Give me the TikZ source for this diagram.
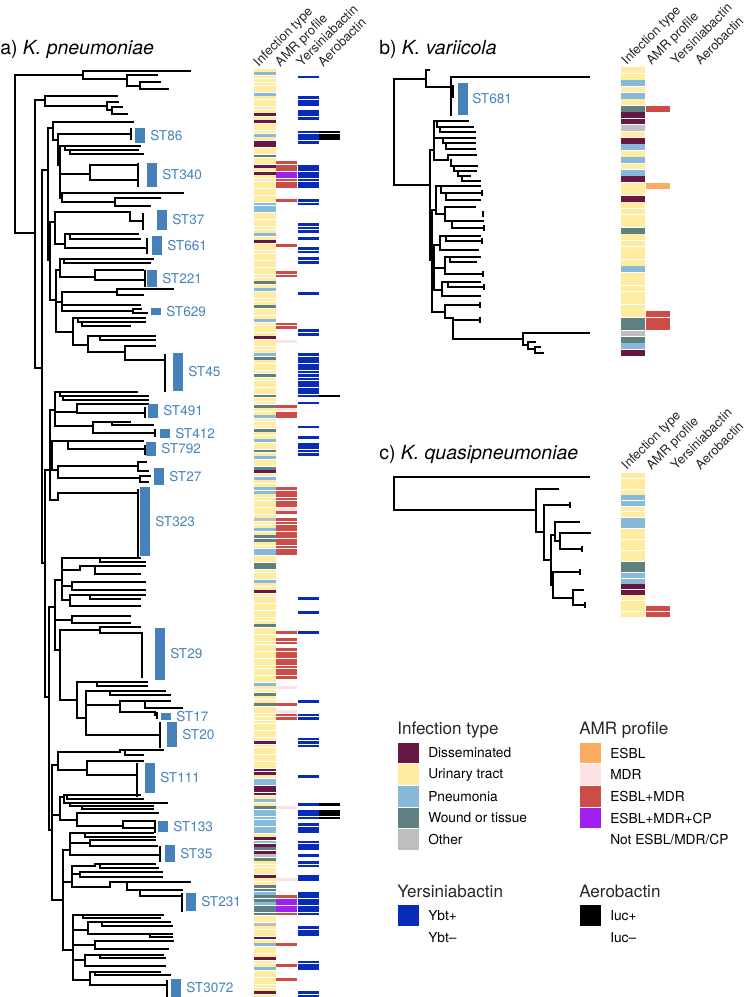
\documentclass[tikz,border=0pt]{standalone}
\usepackage{fontspec}
\usepackage{graphicx}
\setmainfont{TeX Gyre Heros}
\usetikzlibrary{positioning}

\definecolor{dis}{RGB}{104,22,68}
\definecolor{uri}{RGB}{255,236,160}
\definecolor{pne}{RGB}{135,185,218}
\definecolor{wou}{RGB}{95,128,128}
\definecolor{oth}{RGB}{190,190,190}
\definecolor{esbl}{RGB}{252,172,96}
\definecolor{mdr}{RGB}{252,226,228}
\definecolor{esmd}{RGB}{204,76,72}
\definecolor{escp}{RGB}{160,32,240}
\definecolor{ybt}{RGB}{8,44,184}
\definecolor{stblue}{RGB}{70,130,185}

\tikzset{
  branch/.style={line width=1.1pt, line cap=rect},
  clps/.style={line width=1.8pt},
  tipmark/.style={line width=1.1pt},
  stlab/.style={font=\fontsize{10.2}{12}\selectfont, text=stblue, anchor=west, inner sep=0pt},
  head/.style={font=\fontsize{9.7}{12}\selectfont, text=black!85, anchor=base west, inner sep=0pt},
  ptitle/.style={font=\fontsize{14.6}{17}\selectfont, anchor=base west, inner sep=0pt},
  legtitle/.style={font=\fontsize{12.8}{15}\selectfont, text=black!85, anchor=base west, inner sep=0pt},
  legitem/.style={font=\fontsize{10.3}{12}\selectfont, anchor=west, inner sep=0pt},
}

\newcommand{\branches}[1]{\foreach \xs/\ya/\yy/\xe in {#1}{\draw[branch] (\xs,\ya) |- (\xe,\yy);}}
\newcommand{\collapsed}[2]{\foreach \tx/\ta/\tb in {#2}{\draw[#1] (\tx,\ta) -- (\tx,\tb);}}
\newcommand{\heat}[5]{\foreach \ka/\kb/\hc in {#5}{\foreach \k in {\ka,...,\kb}{\fill[\hc] (#1,{#3+\k*#4+0.3}) rectangle (#2,{#3+(\k+1)*#4-0.3});}}}

\begin{document}
\begin{tikzpicture}[x=0.75pt,y=-0.75pt]
\useasboundingbox (0,0) rectangle (747,997);

% titles
\node[ptitle] (ta) at (0,54) {a) \textit{K. pneumoniae}};
\node[ptitle] (tb) at (379,54) {b) \textit{K. variicola}};
\node[ptitle] (tc) at (379,459) {c) \textit{K. quasipneumoniae}};

\foreach \h [count=\i from 0] in {Infection type, AMR profile, Yersiniabactin, Aerobactin}{
  \node[head] (ha\i) at ({252+\i*21.5},67) {\rotatebox{45}{\h}};
  \node[head] (hb\i) at ({620+\i*24.6},65.5) {\rotatebox{45}{\h}};
  \node[head] (hc\i) at ({620+\i*24.6},470.5) {\rotatebox{45}{\h}};
}

% tree a
\branches{15/233/75/83, 83/75/71/190, 83/75/79/127, 127/79/75/157, 127/79/86/140, 140/86/82/160, 140/86/89/168,
15/233/233/35, 35/233/100/45, 35/233/368/42,
45/100/96/117, 45/100/106/107, 107/106/102/118, 107/106/110/112, 112/110/107/122, 112/110/114/127,
42/368/170/48, 42/368/563/45}
\branches{48/170/128/53, 48/170/260/50, 53/128/122/133, 53/128/140/58, 58/140/134/131, 58/140/165/60,
60/165/146/140, 65/146/150/138, 70/150/154/143, 60/165/174/90, 90/174/165/138, 90/174/180/136,
60/165/198/62, 62/198/193/183, 62/198/202/115, 115/202/198/160, 115/202/206/150,
50/260/222/55, 55/222/212/130, 130/212/221/143, 55/222/244/65, 65/244/234/138, 70/234/239/140, 65/244/248/147,
50/260/300/56, 56/300/270/60, 60/270/259/153, 64/259/263/150, 60/270/277/95, 95/277/270/143, 95/277/280/145,
56/300/302/62, 62/302/292/117, 117/292/289/173, 117/292/295/143, 62/302/305/140, 62/302/311/133, 133/311/309/141, 133/311/313/147,
56/300/332/73, 73/332/318/145, 78/318/322/145, 82/322/326/130, 73/332/345/88, 88/345/336/155, 100/336/340/155,
88/345/352/125, 125/352/346/155, 125/352/360/165}
\branches{45/563/470/50, 45/563/697/49,
50/470/410/55, 55/410/392/137, 60/392/396/148, 63/396/400/148, 55/410/412/77, 77/412/404/148, 77/412/413/145,
55/410/426/93, 93/426/422/130, 112/422/425/153, 93/426/433/155,
50/470/448/52, 52/448/441/143, 68/441/449/145, 52/448/470/58, 58/470/466/138, 138/466/462/146, 138/466/471/148,
58/470/478/140, 140/478/476/150, 140/478/482/148, 50/470/500/58, 58/500/493/138}
\branches{49/697/607/55, 49/697/830/52,
55/607/580/62, 62/580/558/140, 100/558/562/145, 62/580/570/80, 80/570/566/145, 95/566/574/140,
62/580/586/72, 72/586/582/145, 72/586/590/145, 62/580/600/70, 70/600/595/145, 90/595/599/140, 70/600/606/140,
55/607/620/72, 72/620/616/130, 72/620/623/130,
55/607/650/60, 60/650/630/100, 100/630/627/140, 100/630/633/142,
60/650/700/77, 77/700/682/147, 97/682/686/147, 77/700/718/86, 86/718/691/165, 110/691/695/170,
86/718/705/120, 120/705/701/170, 145/701/708/182, 120/705/712/155, 155/712/715/157, 86/718/735/160}
\branches{52/830/765/58, 58/765/752/120, 120/752/750/163, 125/752/755/143, 58/765/770/87, 87/770/761/143, 87/770/775/137,
52/830/815/60, 60/815/797/64, 64/797/795/140, 67/795/799/143, 64/797/803/167, 70/803/806/153, 82/806/809/153,
60/815/820/77, 77/820/813/158, 77/820/826/123, 123/826/821/155, 123/826/828/155,
52/830/900/63, 63/900/850/70, 70/850/833/153, 85/833/837/155, 70/850/843/90, 90/843/840/155, 90/843/846/157, 70/850/855/160,
63/900/882/72, 72/882/866/95, 95/866/864/155, 100/864/868/158, 72/882/874/80, 80/874/872/162, 80/874/877/162,
72/882/887/110, 110/887/882/190, 127/882/890/182, 140/890/896/182,
63/900/950/73, 73/950/915/163, 83/915/918/160, 73/950/930/88, 88/930/922/170, 102/922/926/172, 88/930/934/172, 150/934/937/172,
73/950/945/95, 95/945/941/173, 95/945/949/168, 73/950/960/85, 85/960/955/163, 100/955/958/165, 85/960/966/165,
73/950/980/90, 90/980/972/160, 95/972/975/170, 90/980/985/167}
\collapsed{clps}{131/128/140, 138/163/187, 143/213/230, 147/238/254, 145/270/287, 165/354/392, 145/407/418, 155/429/437,
145/445/455, 142/632/678, 157/712/719, 160/722/748, 137/763/797, 155/822/833, 160/846/862, 182/893/912, 167/980/997}
\collapsed{branch}{138/490/556}

\foreach \n/\bx/\ya/\yb in {86/135/128/143, 340/147/163/187, 37/157/210/230, 661/152/236/255, 221/147/270/287,
  629/151/308/315, 45/173/353/391, 491/148/404/418, 412/160/429/438, 792/146/442/456, 27/154/468/485,
  323/140/487/556, 29/155/628/680, 17/161/713/720, 20/167/722/747, 111/145/763/793, 133/158/821/832,
  35/165/845/862, 231/186/893/911, 3072/171/979/997}{
  \fill[stblue] (\bx,\ya) rectangle (\bx+9.5,\yb);
  \node[stlab] (st\n) at (\bx+15,{(\ya+\yb)/2}) {ST\n};
}

% heatmap a
\heat{254}{275.5}{68.5}{3.43}{0/270/uri}
\heat{254}{275.5}{68.5}{3.43}{1/1/pne,7/7/pne,13/13/dis,15/15/dis,19/19/pne,21/22/dis,25/25/wou,28/28/dis,30/30/dis,39/41/pne,
48/48/pne,50/50/dis,62/62/wou,64/64/pne,69/69/wou,73/73/pne,78/78/dis,83/83/pne,84/84/wou,89/89/wou,95/95/wou,98/98/wou,
101/101/pne,105/105/wou,108/108/pne,111/111/wou,113/113/pne,116/116/wou,117/117/dis,119/119/pne,122/123/pne,131/131/oth,
134/134/pne,136/137/wou,140/141/pne,144/145/wou,149/149/pne,152/152/dis,162/162/wou,179/179/pne,182/182/wou,185/185/wou,
196/196/dis,204/205/dis,207/208/pne,209/211/dis,213/213/pne,215/215/wou,216/222/pne,224/224/dis,225/225/pne,226/226/dis,
227/227/wou,228/228/dis,229/229/oth,230/230/wou,235/235/dis,238/239/wou,240/240/pne,241/242/wou,243/243/pne,244/246/wou,
249/249/oth,253/253/dis,255/255/pne,259/259/dis,262/262/pne,269/269/dis}
\heat{276.2}{297.2}{68.5}{3.43}{27/34/esmd,30/31/escp,38/38/esmd,51/51/esmd,59/60/esmd,74/75/esmd,79/79/mdr,98/98/esmd,
99/99/mdr,100/101/esmd,122/127/esmd,128/128/mdr,129/129/esmd,131/141/esmd,164/164/esmd,166/167/esmd,169/177/esmd,
180/180/mdr,185/185/esmd,187/187/mdr,188/189/esmd,215/215/mdr,236/236/mdr,241/246/esmd,242/245/escp,255/255/esmd,
261/261/esmd,265/265/esmd}
\heat{297.8}{318.8}{68.5}{3.43}{2/2/ybt,8/10/ybt,12/14/ybt,18/21/ybt,28/34/ybt,38/39/ybt,45/47/ybt,49/49/ybt,52/53/ybt,
55/56/ybt,65/65/ybt,76/77/ybt,83/95/ybt,97/97/ybt,104/104/ybt,107/107/ybt,109/112/ybt,154/154/ybt,158/158/ybt,164/164/ybt,
184/184/ybt,188/189/ybt,195/197/ybt,206/206/ybt,214/214/ybt,216/218/ybt,220/222/ybt,225/227/ybt,229/229/ybt,231/232/ybt,
235/236/ybt,240/246/ybt,250/250/ybt,251/252/ybt,260/262/ybt,269/270/ybt}
\heat{319.3}{340.3}{68.5}{3.43}{18/20/black,95/95/black,214/214/black,216/218/black}

% tree b
\branches{394/185/79/426, 426/79/70/429, 426/79/87/451, 451/87/77/589, 451/87/115/451, 394/185/185/430,
430/185/150/434, 430/185/260/432,
434/150/121/468, 437/121/127/473, 440/127/132/475, 434/150/138/475, 443/138/143/475, 446/143/149/475,
434/150/160/448, 448/160/155/476, 451/160/166/477, 454/166/171/476, 458/171/176/470, 462/176/181/480,
432/260/210/436, 436/210/186/480, 441/186/193/482, 446/193/200/480, 436/210/214/445, 445/214/207/475,
445/214/221/483, 452/221/228/484,
432/260/275/434, 434/275/245/440, 440/245/236/480, 446/236/241/482, 440/245/250/478, 434/275/268/445,
445/268/257/480, 450/257/262/476, 445/268/274/483, 434/275/290/442, 442/290/282/480, 448/282/287/484, 442/290/296/480,
432/260/312/445, 445/312/305/480, 445/312/318/453, 453/318/320/480, 453/318/339/523, 523/339/333/589,
523/339/345/528, 528/345/342/535, 528/345/349/535, 535/349/347/540, 535/349/353/543}
\collapsed{tipmark}{482/190/196, 483/211/217, 484/225/231, 482/238/244, 483/271/277, 484/284/290, 480/302/308, 480/317/323}
\draw[line width=2.4pt] (452,85) -- (452,98);
\fill[stblue] (458,83) rectangle (468,115);
\node[stlab] (st681) at (472,99) {ST681};

\heat{621}{645}{67}{6.42}{0/44/uri}
\heat{621}{645}{67}{6.42}{2/2/pne,4/4/pne,6/6/wou,7/8/dis,9/9/oth,11/11/dis,12/12/pne,14/14/pne,16/16/pne,17/17/dis,
20/20/dis,25/25/wou,31/31/pne,39/40/wou,41/41/oth,42/42/wou,43/43/pne,44/44/dis}
\heat{645.5}{670}{67}{6.42}{6/6/esmd,18/18/esbl,38/40/esmd}

% tree c
\branches{394/510/477/589, 394/510/510/536, 536/510/489/558, 536/510/532/544, 544/532/505/570, 544/532/560/551,
551/560/535/555, 555/535/522/579, 555/535/541/560, 560/541/533/590, 560/541/549/582, 551/560/585/553,
553/585/572/580, 553/585/598/573, 573/598/590/583, 573/598/605/585}
\collapsed{tipmark}{570/502/508, 582/546/552, 580/569/575, 585/602/608}

\heat{621}{645}{473}{5.54}{0/25/uri}
\heat{621}{645}{473}{5.54}{4/5/pne,8/9/pne,16/17/wou,18/19/pne,20/21/dis}
\heat{645.5}{670}{473}{5.54}{24/25/esmd}

% legends
\node[legtitle] (lgi) at (397,734) {Infection type};
\foreach \c/\t [count=\i from 0] in {dis/Disseminated, uri/Urinary tract, pne/Pneumonia, wou/Wound or tissue, oth/Other}{
  \fill[\c] (398,{742.7+\i*21.67}) rectangle (419,{763.4+\i*21.67});
  \node[legitem] (lgi\i) at (428,{753+\i*21.67}) {\t};
}
\node[legtitle] (lga) at (579,734) {AMR profile};
\foreach \c/\t [count=\i from 0] in {esbl/ESBL, mdr/MDR, esmd/ESBL+MDR, escp/ESBL+MDR+CP, white/{Not ESBL/MDR/CP}}{
  \fill[\c] (580,{742.7+\i*21.67}) rectangle (601,{763.4+\i*21.67});
  \node[legitem] (lga\i) at (610,{753+\i*21.67}) {\t};
}
\node[legtitle] (lgy) at (397,897) {Yersiniabactin};
\fill[ybt] (398,905) rectangle (419,926);
\node[legitem] (lgy1) at (428,915.5) {Ybt+};
\node[legitem] (lgy2) at (428,937.5) {Ybt--};
\node[legtitle] (lge) at (579,897) {Aerobactin};
\fill[black] (580,905) rectangle (601,926);
\node[legitem] (lge1) at (610,915.5) {Iuc+};
\node[legitem] (lge2) at (610,937.5) {Iuc--};

\end{tikzpicture}
\end{document}
